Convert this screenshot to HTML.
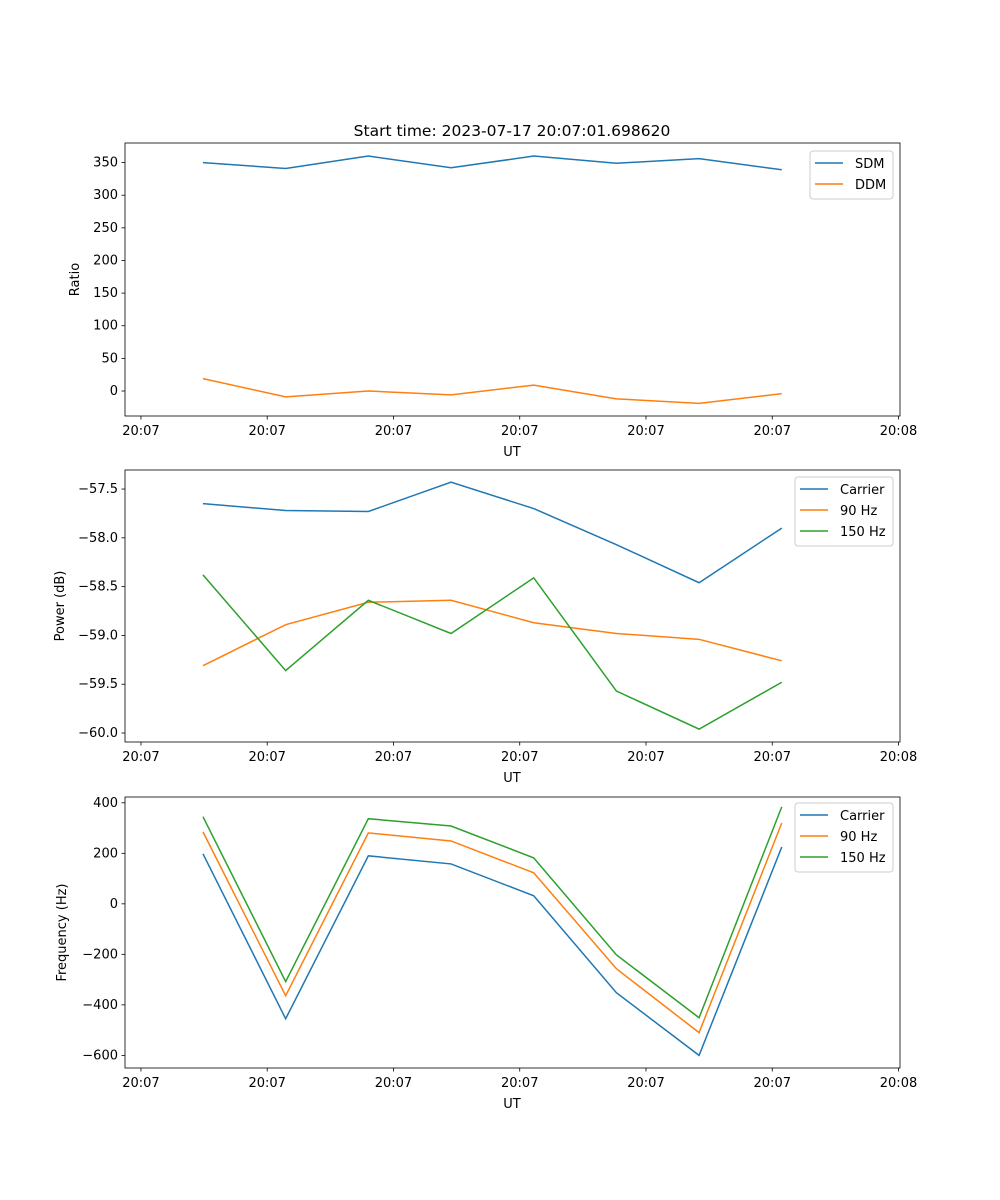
<!DOCTYPE html>
<html><head><meta charset="utf-8"><style>
body{margin:0;background:#fff}
svg{display:block;font-family:"DejaVu Sans","Liberation Sans",sans-serif}
</style></head><body>
<svg id="fig" width="1000" height="1200" viewBox="0 0 1000 1200"></svg>
<script>
const xTickLabels=["20:07","20:07","20:07","20:07","20:07","20:07","20:08"];
const sdm=[350,341,360,342,360,349,356,339];
const ddm=[19,-9,0,-6,9,-12,-19,-4];
const pwrCarrier=[-57.65,-57.72,-57.73,-57.43,-57.70,-58.07,-58.46,-57.90];
const pwr90=[-59.31,-58.89,-58.66,-58.64,-58.87,-58.98,-59.04,-59.26];
const pwr150=[-58.38,-59.36,-58.64,-58.98,-58.41,-59.57,-59.96,-59.48];
const frqCarrier=[198,-455,190,158,32,-352,-600,225];
const frq90=[285,-364,281,249,123,-257,-510,320];
const frq150=[345,-308,337,308,182,-202,-451,384];
const ticks1=[0,50,100,150,200,250,300,350];
const ticks2=[-60.0,-59.5,-59.0,-58.5,-58.0,-57.5];
const ticks3=[-600,-400,-200,0,200,400];

const NS="http://www.w3.org/2000/svg";
const svg=document.getElementById('fig');
function el(t,a,p){const e=document.createElementNS(NS,t);for(const k in a)e.setAttribute(k,a[k]);(p||svg).appendChild(e);return e;}
const L=125,R=900,xmin=-0.943,xmax=8.43;
const sx=i=>L+(i-xmin)/(xmax-xmin)*(R-L);
const C={b:"#1f77b4",o:"#ff7f0e",g:"#2ca02c"};

function panel(name,top,bot,ymin,ymax,ticks,fmt,ylabel,ylabX,series,legend){
  const g=el('g',{});
  
  
  const sy=v=>bot-(v-ymin)/(ymax-ymin)*(bot-top);
  ticks.forEach(v=>{
    const y=sy(v);
    el('line',{x1:L-3.5,x2:L,y1:y,y2:y,stroke:'#000','stroke-width':0.8},g);
    const t=el('text',{x:L-7,y:y+4,'text-anchor':'end','font-size':13},g);
    t.textContent=fmt(v).replace('-','\u2212');
    
    
  });
  xTickLabels.forEach((s,k)=>{
    const x=sx(-0.75+k*1.527);
    el('line',{x1:x,x2:x,y1:bot,y2:bot+3.5,stroke:'#000','stroke-width':0.8},g);
    const t=el('text',{x:x,y:bot+19,'text-anchor':'middle','font-size':13},g);
    t.textContent=s;
    
    
  });
  const xl=el('text',{x:512,y:bot+40,'text-anchor':'middle','font-size':13},g);
  xl.textContent='UT';
  
  
  const yl=el('text',{x:ylabX,y:(top+bot)/2,'text-anchor':'middle','font-size':13,transform:`rotate(-90 ${ylabX} ${(top+bot)/2})`},g);
  yl.textContent=ylabel;
  
  
  series.forEach(s=>{
    const p=el('polyline',{points:s.d.map((v,i)=>sx(i)+','+sy(v)).join(' '),fill:'none',stroke:s.c,'stroke-width':1.5},g);
    
    
  });
  el('rect',{x:L,y:top,width:R-L,height:bot-top,fill:'none',stroke:'#000','stroke-width':0.8},g);
  const lg=el('g',{},g);
  
  
  el('rect',{x:legend.x,y:legend.y,width:legend.w,height:series.length*21+6,rx:3,fill:'#fff',stroke:'#ccc','stroke-width':1},lg);
  series.forEach((s,k)=>{
    const y=legend.y+12+k*21;
    el('line',{x1:legend.x+5,x2:legend.x+33,y1:y,y2:y,stroke:s.c,'stroke-width':1.5},lg);
    const t=el('text',{x:legend.x+45,y:y+5,'font-size':13},lg);
    t.textContent=s.n;
    
    
  });
}
const title=el('text',{x:512,y:136,'text-anchor':'middle','font-size':15.5});
title.textContent='Start time: 2023-07-17 20:07:01.698620';



panel('ratio-panel',143,416,-38.3,380,ticks1,v=>String(v),'Ratio',79,
  [{n:'SDM',d:sdm,c:C.b},{n:'DDM',d:ddm,c:C.o}],{x:810,y:151,w:83});
panel('power-panel',470,742,-60.092,-57.305,ticks2,v=>v.toFixed(1),'Power (dB)',64,
  [{n:'Carrier',d:pwrCarrier,c:C.b},{n:'90 Hz',d:pwr90,c:C.o},{n:'150 Hz',d:pwr150,c:C.g}],{x:795,y:477,w:98});
panel('frequency-panel',797,1068,-650,423,ticks3,v=>String(v),'Frequency (Hz)',66,
  [{n:'Carrier',d:frqCarrier,c:C.b},{n:'90 Hz',d:frq90,c:C.o},{n:'150 Hz',d:frq150,c:C.g}],{x:795,y:803,w:98});
</script>
</body></html>
